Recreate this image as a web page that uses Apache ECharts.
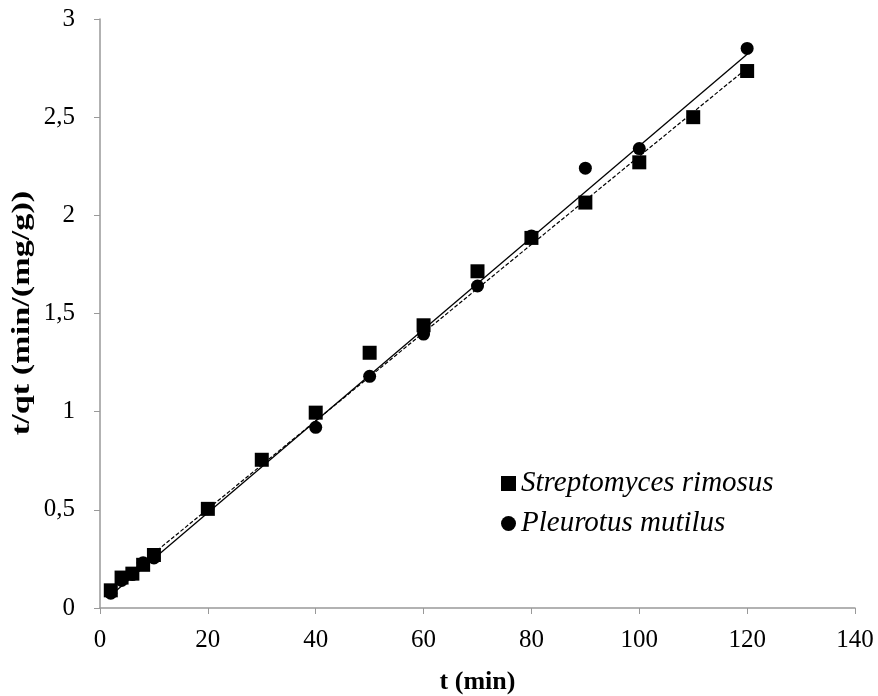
<!DOCTYPE html>
<html>
<head>
<meta charset="utf-8">
<script src="https://cdn.jsdelivr.net/npm/echarts@6/dist/echarts.min.js"></script>
<style>html,body{margin:0;padding:0;background:#fff}#c{width:878px;height:696px}</style>
</head>
<body>
<div id="c"></div>
<script>
const xTicks = [0, 20, 40, 60, 80, 100, 120, 140];
const yTicks = [0, 0.5, 1, 1.5, 2, 2.5, 3];
const strepT = [2, 4, 6, 8, 10, 20, 30, 40, 50, 60, 70, 80, 90, 100, 110, 120];
const strepY = [0.09, 0.155, 0.175, 0.22, 0.27, 0.505, 0.755, 0.995, 1.30, 1.44, 1.715, 1.885, 2.065, 2.27, 2.50, 2.735];
const pleuT = [2, 4, 6, 8, 10, 20, 30, 40, 50, 60, 70, 80, 90, 100, 120];
const pleuY = [0.075, 0.14, 0.17, 0.23, 0.255, 0.505, 0.755, 0.92, 1.18, 1.395, 1.64, 1.895, 2.24, 2.34, 2.85];
const strepFitT = [2, 120];
const strepFitY = [0.10, 2.75];
const pleuFitT = [2, 120];
const pleuFitY = [0.065, 2.82];
const xTitle = 't (min)';
const yTitle = 't/qt (min/(mg/g))';

const zip = (a, b) => a.map((v, i) => [v, b[i]]);
const font = "'Liberation Serif', serif";
const chart = echarts.init(document.getElementById('c'));
chart.setOption({
  animation: false,
  backgroundColor: '#fff',
  grid: { left: 100, right: 23, top: 19, bottom: 88, containLabel: false, outerBoundsMode: 'none' },
  graphic: [{
    type: 'text', x: 23, y: 313, rotation: Math.PI / 2, scaleX: 1.37, scaleY: 1,
    style: { text: yTitle, fontFamily: font, fontSize: 25, fontWeight: 'bold', fill: '#000',
      align: 'center', verticalAlign: 'middle' }
  }],
  xAxis: {
    type: 'value', min: 0, max: 140, interval: 20,
    name: xTitle, nameLocation: 'middle', nameGap: 61,
    nameTextStyle: { fontFamily: font, fontSize: 26, fontWeight: 'bold', color: '#000' },
    axisLine: { show: true, lineStyle: { color: '#999', width: 1.5 } },
    axisTick: { show: true, length: 6, lineStyle: { color: '#999' } },
    axisLabel: { fontFamily: font, fontSize: 25, color: '#000', margin: 20 },
    splitLine: { show: false }
  },
  yAxis: {
    type: 'value', min: 0, max: 3, interval: 0.5,
    axisLine: { show: true, lineStyle: { color: '#999', width: 1.5 } },
    axisTick: { show: true, length: 6, lineStyle: { color: '#999' } },
    axisLabel: { fontFamily: font, fontSize: 25, color: '#000', margin: 25,
      formatter: v => String(v).replace('.', ',') },
    splitLine: { show: false }
  },
  legend: {
    orient: 'vertical', left: 496, top: 464, itemGap: 11,
    itemWidth: 15, itemHeight: 15, itemStyle: { borderWidth: 0 },
    data: [
      { name: 'Streptomyces rimosus', icon: 'rect' },
      { name: 'Pleurotus mutilus', icon: 'circle' }
    ],
    textStyle: { fontFamily: font, fontSize: 29, fontStyle: 'italic', color: '#000', padding: [0, 0, 0, 0] }
  },
  series: [
    { name: 'Streptomyces rimosus', type: 'scatter', symbol: 'rect', symbolSize: 14,
      itemStyle: { color: '#000', opacity: 1 }, data: zip(strepT, strepY), z: 2 },
    { name: 'Pleurotus mutilus', type: 'scatter', symbol: 'circle', symbolSize: 13,
      itemStyle: { color: '#000', opacity: 1 }, data: zip(pleuT, pleuY), z: 2 },
    { name: 'fitS', type: 'line', symbol: 'none', data: zip(strepFitT, strepFitY),
      lineStyle: { color: '#000', width: 1.2, type: [4, 2] }, z: 3 },
    { name: 'fitP', type: 'line', symbol: 'none', data: zip(pleuFitT, pleuFitY),
      lineStyle: { color: '#000', width: 1.3, type: 'solid' }, z: 3 }
  ]
});
</script>
</body>
</html>
